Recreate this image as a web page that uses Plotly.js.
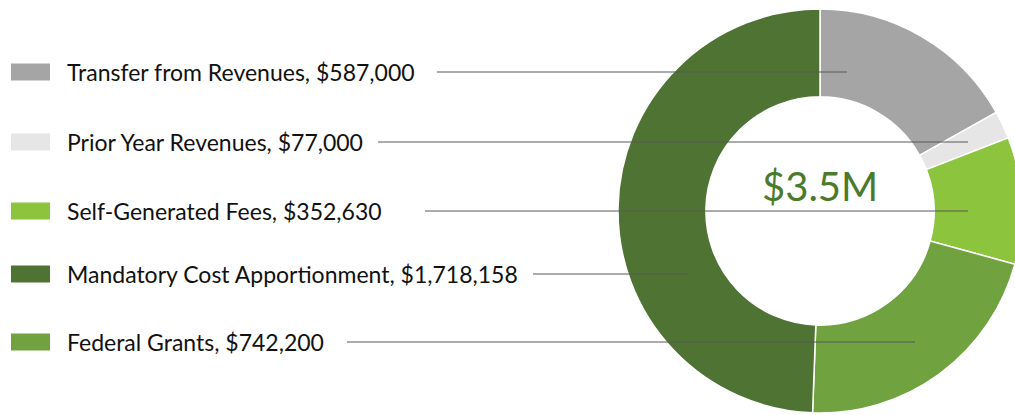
<!DOCTYPE html>
<html>
<head>
<meta charset="utf-8">
<script src="https://cdn.plot.ly/plotly-3.0.1.min.js"></script>
<style>
  html, body { margin: 0; padding: 0; overflow: hidden; background: #fff; }
  #chart { width: 1030px; height: 415px; }
</style>
</head>
<body>
<div id="chart"></div>
<script>
// ---- Data (slice order, clockwise from top) ----
const categories = [
  "Transfer from Revenues",
  "Prior Year Revenues",
  "Self-Generated Fees",
  "Federal Grants",
  "Mandatory Cost Apportionment"
];
const values = [587000, 77000, 352630, 742200, 1718158];
const colors = ["#a5a5a5", "#e6e6e6", "#8cc43d", "#70a33f", "#4e7333"];
// legend row order (top to bottom)
const legendOrder = [
  "Transfer from Revenues",
  "Prior Year Revenues",
  "Self-Generated Fees",
  "Mandatory Cost Apportionment",
  "Federal Grants"
];

// ---- Layout geometry (pixels) ----
const W = 1030, H = 415;
const cx = 820, cy = 211, R = 202;
const rowY = [72, 142, 211, 274, 342];
const lineStartX = [437, 378, 425, 533, 347];
const lineEndX = [847, 968, 968, 688, 915];
const FONT = "Lato, 'Open Sans', sans-serif";

const total = values.reduce((a, b) => a + b, 0);
const centerText = "$" + (total / 1e6).toFixed(1) + "M";

const shapes = [];
const annotations = [];
legendOrder.forEach((name, i) => {
  const k = categories.indexOf(name);
  const y = rowY[i];
  shapes.push({
    type: "rect", xref: "x", yref: "y",
    x0: 11, x1: 50, y0: y - 8.5, y1: y + 8.5,
    fillcolor: colors[k], line: { width: 0 }, layer: "above"
  });
  shapes.push({
    type: "line", xref: "x", yref: "y",
    x0: lineStartX[i], x1: lineEndX[i], y0: y, y1: y,
    line: { color: "#595959", width: 1 }, layer: "above"
  });
  annotations.push({
    xref: "x", yref: "y", x: 65, y: y, xanchor: "left", yanchor: "middle",
    text: name + ", $" + values[k].toLocaleString("en-US"),
    showarrow: false, font: { family: FONT, size: 23, color: "#111111" }
  });
});
annotations.push({
  xref: "x", yref: "y", x: cx, y: 186, xanchor: "center", yanchor: "middle",
  text: centerText, showarrow: false,
  font: { family: FONT, size: 40, color: "#4a7a2c" }
});

const trace = {
  type: "pie",
  labels: categories,
  values: values,
  sort: false,
  direction: "clockwise",
  rotation: 0,
  hole: 0.565,
  textinfo: "none",
  hoverinfo: "none",
  marker: { colors: colors, line: { color: "#ffffff", width: 1.5 } },
  showlegend: false,
  domain: { x: [(cx - R) / W, (cx + R) / W], y: [(H - cy - R) / H, (H - cy + R) / H] }
};

const layout = {
  width: W, height: H,
  margin: { l: 0, r: 0, t: 0, b: 0 },
  paper_bgcolor: "#ffffff", plot_bgcolor: "rgba(0,0,0,0)",
  xaxis: { range: [0, W], visible: false, fixedrange: true },
  yaxis: { range: [H, 0], visible: false, fixedrange: true },
  showlegend: false,
  shapes: shapes,
  annotations: annotations
};

Plotly.newPlot("chart", [trace], layout, { displayModeBar: false, staticPlot: true });
</script>
</body>
</html>
